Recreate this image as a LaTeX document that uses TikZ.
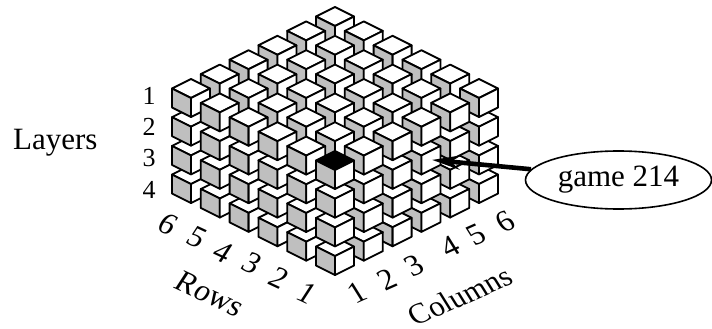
\documentclass[tikz,border=0pt]{standalone}
\usepackage{fontspec}
\setmainfont{Liberation Serif}
\usetikzlibrary{shapes.geometric,arrows.meta}
\definecolor{cubegray}{gray}{0.75}
\tikzset{
  edge/.style={line width=1.8pt,line join=round,draw=black},
  bigtext/.style={font=\fontsize{31}{31}\selectfont,inner sep=0pt},
  numtext/.style={font=\fontsize{26}{26}\selectfont,inner sep=0pt},
  rowtext/.style={font=\fontsize{31}{31}\selectfont,inner sep=0pt,rotate=-25,xslant=.14},
  coltext/.style={font=\fontsize{31}{31}\selectfont,inner sep=0pt,rotate=24,xslant=-.14},
  gamebox/.style={ellipse,draw=black,line width=1.6pt,fill=white,minimum width=186pt,minimum height=58pt,inner sep=0pt,font=\fontsize{31}{31}\selectfont},
  pointer/.style={line width=4.6pt,-{Stealth[length=28pt,width=14pt]},shorten >=-1pt}
}
\newcommand{\cubeat}[3]{%
  \begin{scope}[shift={(#1,#2)}]
    \filldraw[edge,fill=#3] (0,0) -- (19,9.5) -- (0,19) -- (-19,9.5) -- cycle;
    \filldraw[edge,fill=cubegray] (-19,9.5) -- (0,19) -- (0,38) -- (-19,28.5) -- cycle;
    \filldraw[edge,fill=white] (19,9.5) -- (0,19) -- (0,38) -- (19,28.5) -- cycle;
  \end{scope}}
\begin{document}
\begin{tikzpicture}[x=1pt,y=-1pt]
\useasboundingbox (0,0) rectangle (712,329);
\foreach \lay in {4,3,2,1}{
  \foreach \r in {6,...,1}{
    \foreach \c in {6,...,1}{
      \pgfmathsetmacro{\px}{335+28.8*(\c-\r)}
      \pgfmathsetmacro{\py}{151-14.4*(\c+\r-2)+28.7*(\lay-1)}
      \pgfmathtruncatemacro{\isblack}{(\lay==1)&&(\r==1)&&(\c==1)?1:0}
      \ifnum\isblack=1 \cubeat{\px}{\py}{black}\else \cubeat{\px}{\py}{white}\fi
    }
  }
}
\node[gamebox] (game) at (618.5,180) {game 214};
\coordinate (tip) at (433,160);
\draw[pointer] (game.173.5) -- (tip);
\node[bigtext,anchor=base west] (layers) at (13,149) {Layers};
\node[numtext] (l1) at (149,96) {1};
\node[numtext] (l2) at (149,127) {2};
\node[numtext] (l3) at (149,158) {3};
\node[numtext] (l4) at (149,190) {4};
\node[rowtext] (r6) at (168,224) {6};
\node[rowtext] (r5) at (197,237) {5};
\node[rowtext] (r4) at (223,252) {4};
\node[rowtext] (r3) at (252,263) {3};
\node[rowtext] (r2) at (279,278) {2};
\node[rowtext] (r1) at (307,293) {1};
\node[coltext] (c1) at (357,293) {1};
\node[coltext] (c2) at (387,280) {2};
\node[coltext] (c3) at (414,266) {3};
\node[coltext] (c4) at (450,247) {4};
\node[coltext] (c5) at (476,235) {5};
\node[coltext] (c6) at (505,222) {6};
\node[rowtext] (rows) at (210,294) {Rows};
\node[coltext,font=\fontsize{30}{30}\selectfont] (cols) at (460,296) {Columns};
\end{tikzpicture}
\end{document}
